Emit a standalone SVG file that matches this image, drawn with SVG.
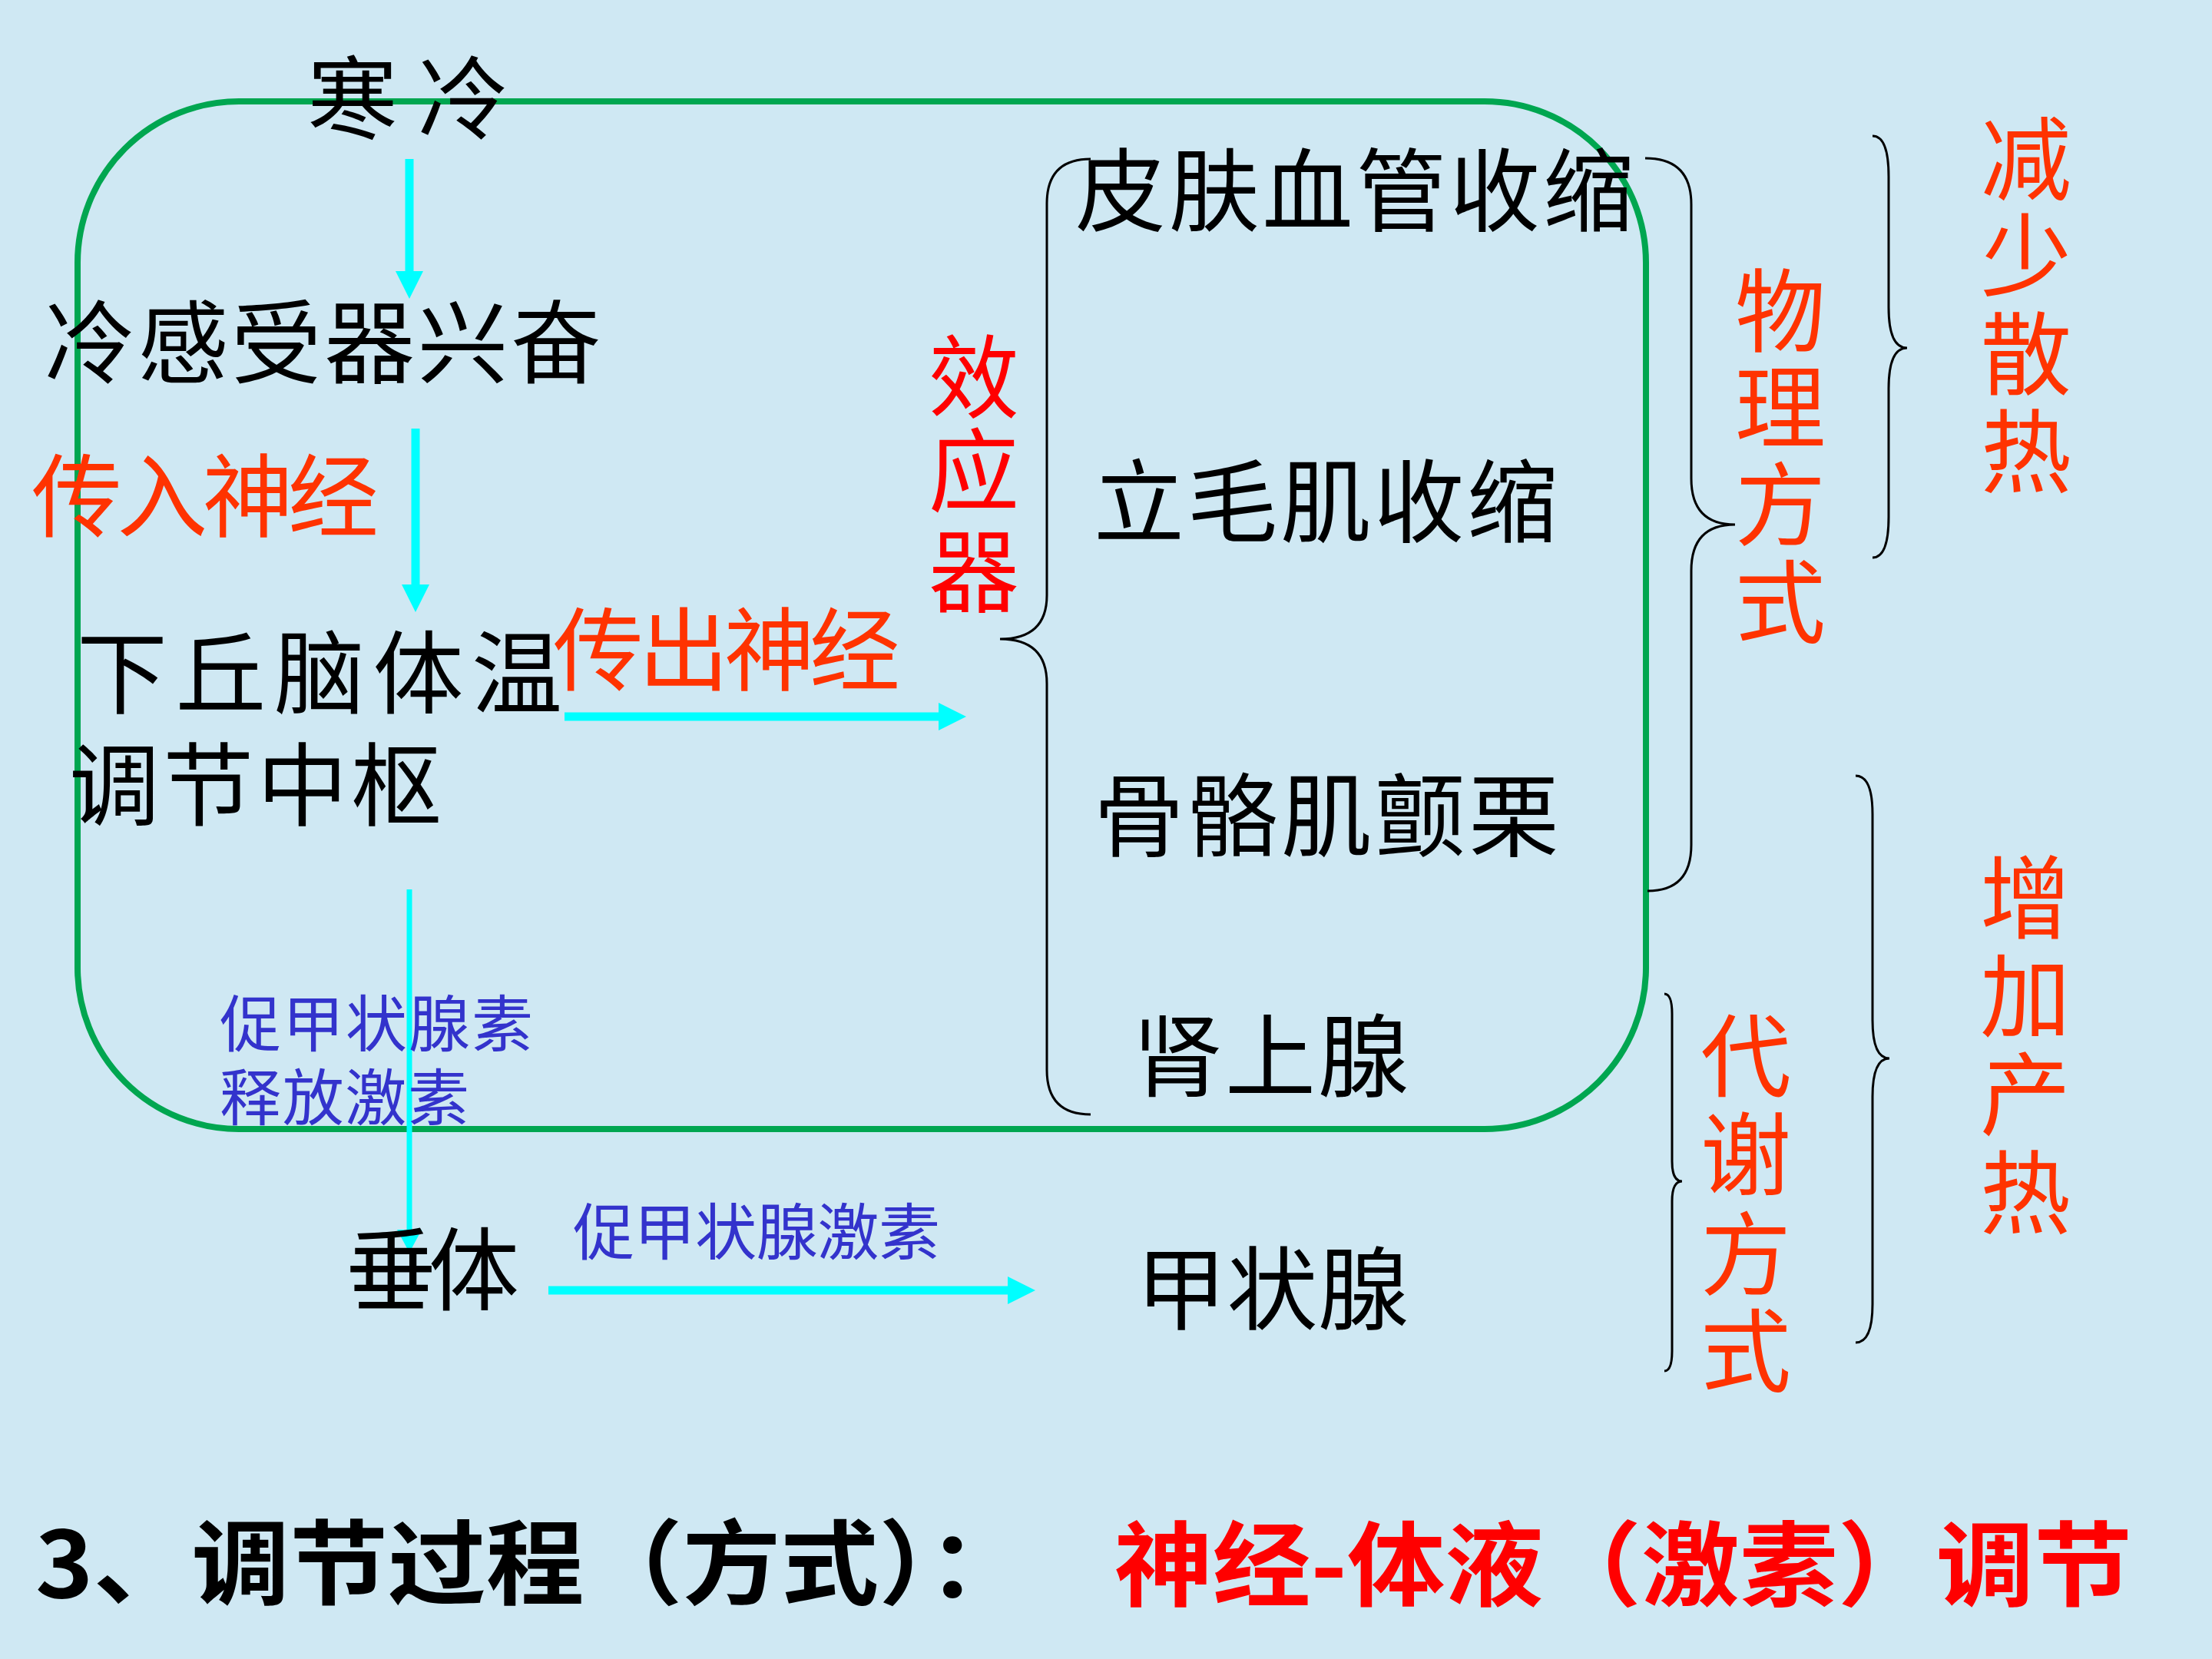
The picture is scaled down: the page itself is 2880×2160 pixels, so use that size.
<svg xmlns="http://www.w3.org/2000/svg" width="2880" height="2160" viewBox="0 0 2880 2160">
<defs>
<style>
text{font-family:"Noto Sans CJK SC","Noto Sans",sans-serif;}
.blk{fill:#000;font-size:118px;}
.org{fill:#ff3300;font-size:118px;}
.red{fill:#ff0000;font-size:118px;}
.blu{fill:#3333cc;font-size:80px;}
.vc{text-anchor:middle;}
.brace{fill:none;stroke:#000;stroke-width:3;}
.arr{fill:none;stroke:#00ffff;stroke-width:11;}
.arrThin{fill:none;stroke:#00ffff;stroke-width:7;}
</style>
<marker id="head" markerUnits="userSpaceOnUse" viewBox="0 0 36 36" markerWidth="36" markerHeight="36" refX="2" refY="18" orient="auto">
<path d="M0,0 L36,18 L0,36 z" fill="#00ffff"/>
</marker>
<marker id="headS" markerUnits="userSpaceOnUse" viewBox="0 0 30 32" markerWidth="30" markerHeight="32" refX="2" refY="16" orient="auto">
<path d="M0,0 L30,16 L0,32 z" fill="#00ffff"/>
</marker>
</defs>
<rect x="0" y="0" width="2880" height="2160" fill="#cfe8f3"/>

<g id="frame">
<rect x="101" y="132" width="2042" height="1338" rx="210" ry="210" fill="none" stroke="#00a650" stroke-width="8"/>
</g>

<g id="connectors">
<path class="arr" d="M533,207 L533,355" marker-end="url(#head)"/>
<path class="arr" d="M541,558 L541,763" marker-end="url(#head)"/>
<path class="arr" d="M735,933 L1224,933" marker-end="url(#head)"/>
<path class="arrThin" d="M533,1158 L533,1603" marker-end="url(#headS)"/>
<path class="arr" d="M714,1680 L1314,1680" marker-end="url(#head)"/>
</g>

<g id="braces">
<path class="brace" d="M1420,207 Q1363,207 1363,265 L1363,775 Q1363,832 1302,832 Q1363,832 1363,890 L1363,1393 Q1363,1451 1420,1451"/>
<path class="brace" d="M2142,206 Q2202,206 2202,266 L2202,623 Q2202,683 2259,683 Q2202,683 2202,743 L2202,1100 Q2202,1160 2145,1160"/>
<path class="brace" d="M2438,177 Q2459,177 2459,230 L2459,400 Q2459,453 2483,453 Q2459,453 2459,506 L2459,673 Q2459,726 2438,726"/>
<path class="brace" d="M2167,1294 Q2177,1294 2177,1320 L2177,1512 Q2177,1538 2190,1538 Q2177,1538 2177,1564 L2177,1759 Q2177,1785 2167,1785"/>
<path class="brace" d="M2416,1010 Q2438,1010 2438,1060 L2438,1328 Q2438,1378 2460,1378 Q2438,1378 2438,1428 L2438,1698 Q2438,1748 2416,1748"/>
</g>

<g id="n-cold"><text class="blk" x="400" y="172" textLength="262" lengthAdjust="spacing">寒冷</text></g>
<g id="n-receptor"><text class="blk" x="58" y="490" textLength="725" lengthAdjust="spacing">冷感受器兴奋</text></g>
<g id="l-afferent"><text class="org" x="41" y="690" font-size="110" textLength="452" lengthAdjust="spacing">传入神经</text></g>
<g id="n-hypothalamus">
<text class="blk" x="100" y="920" textLength="632" lengthAdjust="spacing">下丘脑体温</text>
<text class="blk" x="90" y="1066" textLength="485" lengthAdjust="spacing">调节中枢</text>
</g>
<g id="l-efferent"><text class="org" x="720" y="890" font-size="110" textLength="452" lengthAdjust="spacing">传出神经</text></g>
<g id="l-effector">
<text class="red vc"><tspan x="1268" y="535">效</tspan><tspan x="1268" y="657">应</tspan><tspan x="1268" y="788">器</tspan></text>
</g>
<g id="n-skin"><text class="blk" x="1400" y="292" textLength="727" lengthAdjust="spacing">皮肤血管收缩</text></g>
<g id="n-pilo"><text class="blk" x="1424" y="697" textLength="604" lengthAdjust="spacing">立毛肌收缩</text></g>
<g id="n-shiver"><text class="blk" x="1424" y="1106" textLength="606" lengthAdjust="spacing">骨骼肌颤栗</text></g>
<g id="n-adrenal"><text class="blk" x="1474" y="1419" textLength="360" lengthAdjust="spacing">肾上腺</text></g>
<g id="n-thyroid"><text class="blk" x="1479" y="1722" textLength="355" lengthAdjust="spacing">甲状腺</text></g>
<g id="n-pituitary"><text class="blk" x="450" y="1697" font-size="112" textLength="226" lengthAdjust="spacing">垂体</text></g>
<g id="l-trh">
<text class="blu" x="286" y="1362" textLength="408" lengthAdjust="spacing">促甲状腺素</text>
<text class="blu" x="286" y="1458" textLength="325" lengthAdjust="spacing">释放激素</text>
</g>
<g id="l-tsh"><text class="blu" x="746" y="1633" textLength="478" lengthAdjust="spacing">促甲状腺激素</text></g>
<g id="l-physical">
<text class="org vc"><tspan x="2318" y="449">物</tspan><tspan x="2318" y="574">理</tspan><tspan x="2318" y="701">方</tspan><tspan x="2318" y="828">式</tspan></text>
</g>
<g id="l-reduce">
<text class="org vc"><tspan x="2638" y="251">减</tspan><tspan x="2638" y="377">少</tspan><tspan x="2638" y="505">散</tspan><tspan x="2638" y="632">热</tspan></text>
</g>
<g id="l-metabolic">
<text class="org vc"><tspan x="2273" y="1419">代</tspan><tspan x="2273" y="1547">谢</tspan><tspan x="2273" y="1677">方</tspan><tspan x="2273" y="1803">式</tspan></text>
</g>
<g id="l-increase">
<text class="org vc"><tspan x="2637" y="1213">增</tspan><tspan x="2637" y="1341">加</tspan><tspan x="2637" y="1469">产</tspan><tspan x="2637" y="1597">热</tspan></text>
</g>
<g id="footer">
<text x="46" y="2080" font-size="120" font-weight="bold" fill="#000" textLength="1290" lengthAdjust="spacingAndGlyphs">3、调节过程（方式）：</text>
<text x="1451" y="2082" font-size="120" font-weight="bold" fill="#ff0000" textLength="1325" lengthAdjust="spacingAndGlyphs">神经-体液（激素）调节</text>
</g>
</svg>
